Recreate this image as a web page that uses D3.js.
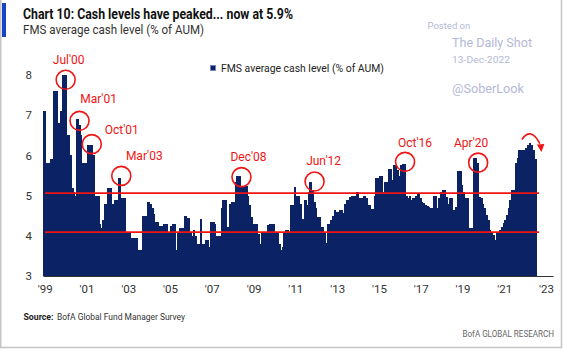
<!DOCTYPE html>
<html>
<head>
<meta charset="utf-8">
<script src="https://cdn.jsdelivr.net/npm/d3@7"></script>
<style>
  body { margin: 0; background: #fff; }
  text { font-family: Roboto, "Liberation Sans", sans-serif; }
</style>
</head>
<body>
<script>
// monthly FMS cash level, first bar is Jun 1999
var y1999 = [7.1, 5.65, 5.8, 5.8, 5.92, 5.92, 7.6];
var y2000 = [7.6, 6.8, 6.8, 7.1, 8.0, 8.0, 6.5, 6.5, 6.0, 5.2, 5.1, 5.0];
var y2001 = [6.9, 6.75, 6.5, 5.8, 5.8, 5.8, 6.27, 6.27, 6.27, 6.0, 5.0, 5.0];
var y2002 = [5.0, 4.3, 4.2, 4.4, 4.8, 4.8, 5.2, 5.2, 4.8, 4.45, 4.9, 4.9];
var y2003 = [5.45, 4.95, 4.95, 4.95, 4.1, 4.1, 4.1, 3.95, 3.95, 3.95, 3.95, 3.65];
var y2004 = [3.65, 3.65, 4.5, 4.5, 4.1, 4.85, 4.8, 4.7, 4.55, 4.35, 4.35, 4.25];
var y2005 = [4.25, 4.25, 4.3, 4.3, 4.1, 4.1, 4.25, 4.3, 4.3, 3.65, 4.1, 4.2];
var y2006 = [4.2, 4.2, 4.5, 4.45, 4.45, 4.1, 4.0, 4.15, 4.0, 3.8, 3.8, 4.43];
var y2007 = [3.8, 3.8, 3.9, 3.9, 3.73, 4.35, 4.35, 4.3, 4.0, 4.0, 4.0, 4.7];
var y2008 = [4.9, 4.9, 4.23, 4.06, 4.8, 4.85, 4.85, 5.35, 5.5, 5.5, 5.25, 5.25];
var y2009 = [5.25, 5.25, 5.0, 4.77, 4.48, 4.3, 4.3, 4.3, 4.05, 3.8, 4.06, 4.06];
var y2010 = [4.06, 3.8, 4.27, 4.3, 4.3, 4.3, 4.1, 4.1, 3.8, 3.65, 3.73, 4.1];
var y2011 = [4.15, 4.15, 4.06, 4.77, 4.77, 5.22, 5.0, 5.0, 4.8, 4.43, 4.43, 4.9];
var y2012 = [4.77, 5.1, 5.35, 5.15, 4.85, 4.7, 4.48, 4.48, 4.23, 4.23, 4.1, 3.83];
var y2013 = [4.3, 4.3, 4.4, 4.5, 4.64, 4.6, 4.6, 4.64, 4.64, 4.56, 4.8, 4.89];
var y2014 = [4.89, 4.97, 5.0, 5.0, 4.6, 5.1, 4.93, 4.93, 4.64, 5.0, 4.93, 4.77];
var y2015 = [4.77, 4.66, 4.66, 5.0, 5.45, 5.45, 5.49, 5.49, 5.1, 5.35, 5.35, 5.65];
var y2016 = [5.65, 5.4, 5.76, 5.76, 5.64, 5.5, 5.76, 5.79, 5.79, 5.0, 4.93, 5.0];
var y2017 = [4.89, 4.93, 4.85, 5.0, 5.04, 4.93, 4.85, 4.82, 4.77, 4.74, 4.72, 4.68];
var y2018 = [4.68, 5.0, 5.0, 4.68, 4.93, 5.1, 5.14, 5.14, 4.97, 4.8, 4.93, 4.93];
var y2019 = [4.64, 4.6, 4.72, 5.6, 5.6, 5.26, 5.1, 4.93, 4.93, 4.19, 4.19, 4.19];
var y2020 = [5.93, 5.93, 5.8, 4.97, 4.93, 4.8, 4.68, 4.52, 4.39, 4.14, 4.06, 4.02];
var y2021 = [3.9, 4.06, 4.06, 4.14, 4.23, 4.31, 4.39, 4.52, 4.68, 4.89, 5.14, 5.14];
var y2022 = [5.8, 5.93, 6.13, 6.13, 6.13, 6.13, 6.18, 6.26, 6.32, 6.26, 6.13, 5.9];

// red reference lines
var refLevels = [5.06, 4.09];

// annotated peaks
var annoLabels = ["Jul'00", "Mar'01", "Oct'01", "Mar'03", "Dec'08", "Jun'12", "Oct'16", "Apr'20"];
var annoDates = ["2000-07", "2001-03", "2001-10", "2003-03", "2008-12", "2012-06", "2016-10", "2020-04"];
var annoValues = [7.88, 6.86, 6.28, 5.49, 5.46, 5.35, 5.84, 5.82];

var yTicks = [3, 4, 5, 6, 7, 8];
var xTickYears = [1999, 2001, 2003, 2005, 2007, 2009, 2011, 2013, 2015, 2017, 2019, 2021, 2023];

// label offsets from circle centre (layout only)
var annoOffsets = [[3, -16], [19, -18], [30, -10], [23, -16], [7, -16], [9, -17], [10, -15], [-7, -16]];

var navy = "#0b2265";
var red = "#f01414";
var wm = "#b5b9d6";

var cash = [].concat(y1999, y2000, y2001, y2002, y2003, y2004, y2005, y2006, y2007, y2008,
  y2009, y2010, y2011, y2012, y2013, y2014, y2015, y2016, y2017, y2018, y2019, y2020, y2021, y2022);
var start = new Date(1999, 5, 1);
var datos = cash.map(function(v, i) { return { date: d3.timeMonth.offset(start, i), value: v }; });

var svg = d3.select("body").append("svg")
  .attr("width", 564)
  .attr("height", 352);

svg.append("rect").attr("width", 564).attr("height", 352).attr("fill", "#fff");

// frame
svg.append("path")
  .attr("d", "M0.75,0 V347.5 H561.5 V0")
  .attr("fill", "none")
  .attr("stroke", "#c4c4c4")
  .attr("stroke-width", 1.5);

var x = d3.scaleTime()
  .domain([new Date(1999, 5, 1), new Date(2023, 10, 1)])
  .range([43, 553]);
var y = d3.scaleLinear()
  .domain([3, 8])
  .range([276, 75]);

// header
svg.append("rect").attr("x", 2).attr("y", 3).attr("width", 4).attr("height", 34).attr("fill", "#1745c4");
svg.append("text")
  .attr("x", 23).attr("y", 18.5)
  .attr("font-size", 15).attr("font-weight", "bold").attr("fill", "#111")
  .attr("textLength", 270).attr("lengthAdjust", "spacingAndGlyphs")
  .text("Chart 10: Cash levels have peaked... now at 5.9%");
svg.append("text")
  .attr("x", 23).attr("y", 33.5)
  .attr("font-size", 13).attr("fill", "#333")
  .attr("textLength", 181).attr("lengthAdjust", "spacingAndGlyphs")
  .text("FMS average cash level (% of AUM)");

// watermark
svg.append("text").attr("x", 427.5).attr("y", 29).attr("font-family", "Liberation Sans")
  .attr("font-size", 9.5).attr("fill", wm).text("Posted on");
svg.append("text").attr("x", 452).attr("y", 46.5).attr("font-family", "Liberation Sans")
  .attr("font-size", 13).attr("fill", wm).attr("textLength", 80).attr("lengthAdjust", "spacingAndGlyphs")
  .text("The Daily Shot");
svg.append("text").attr("x", 452).attr("y", 63).attr("font-family", "Liberation Sans")
  .attr("font-size", 9.5).attr("fill", wm).attr("textLength", 58).attr("lengthAdjust", "spacingAndGlyphs")
  .text("13-Dec-2022");
svg.append("text").attr("x", 452).attr("y", 93).attr("font-family", "Liberation Sans")
  .attr("font-size", 13).attr("fill", wm).attr("textLength", 72).attr("lengthAdjust", "spacingAndGlyphs")
  .text("@SoberLook");

// legend
svg.append("rect").attr("x", 210.5).attr("y", 65.5).attr("width", 5).attr("height", 5)
  .attr("fill", navy).attr("stroke", "#6d80b8").attr("stroke-width", 0.8);
svg.append("text").attr("x", 221).attr("y", 71.5)
  .attr("font-size", 11).attr("fill", "#222")
  .attr("textLength", 163).attr("lengthAdjust", "spacingAndGlyphs")
  .text("FMS average cash level (% of AUM)");

// bars
svg.append("g")
  .attr("shape-rendering", "crispEdges")
  .selectAll("rect")
  .data(datos)
  .enter()
  .append("rect")
  .attr("x", function(d) { return x(d.date); })
  .attr("width", function(d) { return x(d3.timeMonth.offset(d.date, 1)) - x(d.date) + 1; })
  .attr("y", function(d) { return y(d.value); })
  .attr("height", function(d) { return y(3) - y(d.value); })
  .attr("fill", navy);

// axes
var xAxis = d3.axisBottom(x)
  .tickValues(xTickYears.map(function(yr) { return new Date(yr, 6, 1); }))
  .tickFormat(function(d) { return "'" + d3.timeFormat("%y")(d); })
  .tickSize(0)
  .tickSizeOuter(0)
  .tickPadding(9);
var gx = svg.append("g").attr("transform", "translate(0," + y(3) + ")").call(xAxis);
gx.select(".domain").attr("stroke", "#333").attr("stroke-width", 1);
gx.selectAll("text").attr("font-size", 11.5).attr("fill", "#333").attr("font-family", "Roboto");

var yAxis = d3.axisLeft(y).tickValues(yTicks).tickFormat(d3.format("d")).tickSize(0).tickPadding(3);
var gy = svg.append("g").attr("transform", "translate(35,0)").call(yAxis);
gy.select(".domain").remove();
gy.selectAll("text").attr("font-size", 11.5).attr("fill", "#333").attr("font-family", "Roboto");

// reference lines
svg.append("g").selectAll("line")
  .data(refLevels)
  .enter()
  .append("line")
  .attr("x1", x(start) + 2)
  .attr("x2", x(new Date(2023, 2, 1)))
  .attr("y1", function(d) { return y(d); })
  .attr("y2", function(d) { return y(d); })
  .attr("stroke", red)
  .attr("stroke-width", 1.8);

// annotations
var parse = d3.timeParse("%Y-%m");
var anno = svg.append("g").selectAll("g")
  .data(annoLabels)
  .enter()
  .append("g");
anno.append("circle")
  .attr("cx", function(d, i) { return x(parse(annoDates[i])); })
  .attr("cy", function(d, i) { return y(annoValues[i]); })
  .attr("r", 9.5)
  .attr("fill", "none")
  .attr("stroke", red)
  .attr("stroke-width", 1.6);
anno.append("text")
  .attr("x", function(d, i) { return x(parse(annoDates[i])) + annoOffsets[i][0]; })
  .attr("y", function(d, i) { return y(annoValues[i]) + annoOffsets[i][1]; })
  .attr("text-anchor", "middle")
  .attr("font-size", 12)
  .attr("fill", red)
  .text(function(d) { return d; });

// curved arrow after the latest peak
var ax = x(new Date(2022, 11, 1)), ay = y(6.32);
svg.append("path")
  .attr("d", "M" + (ax - 12) + "," + (ay - 3) + " Q" + (ax - 3) + "," + (ay - 16) + " " + (ax + 6) + "," + (ay + 1))
  .attr("fill", "none")
  .attr("stroke", red)
  .attr("stroke-width", 1.6);
svg.append("path")
  .attr("d", "M" + (ax + 3) + "," + (ay + 2) + " L" + (ax + 10.5) + "," + (ay + 1.5) + " L" + (ax + 7.5) + "," + (ay + 9.5) + "Z")
  .attr("fill", red);

// footer
svg.append("text").attr("x", 23.5).attr("y", 320)
  .attr("font-size", 9).attr("font-weight", "bold").attr("fill", "#222")
  .attr("textLength", 30).attr("lengthAdjust", "spacingAndGlyphs")
  .text("Source:");
svg.append("text").attr("x", 57).attr("y", 320)
  .attr("font-size", 9).attr("fill", "#333")
  .attr("textLength", 128).attr("lengthAdjust", "spacingAndGlyphs")
  .text("BofA Global Fund Manager Survey");
svg.append("text")
  .attr("transform", "translate(554,337) scale(0.85,1)")
  .attr("text-anchor", "end")
  .attr("font-size", 9.5).attr("fill", "#666")
  .text("BofA GLOBAL RESEARCH");
</script>
</body>
</html>
